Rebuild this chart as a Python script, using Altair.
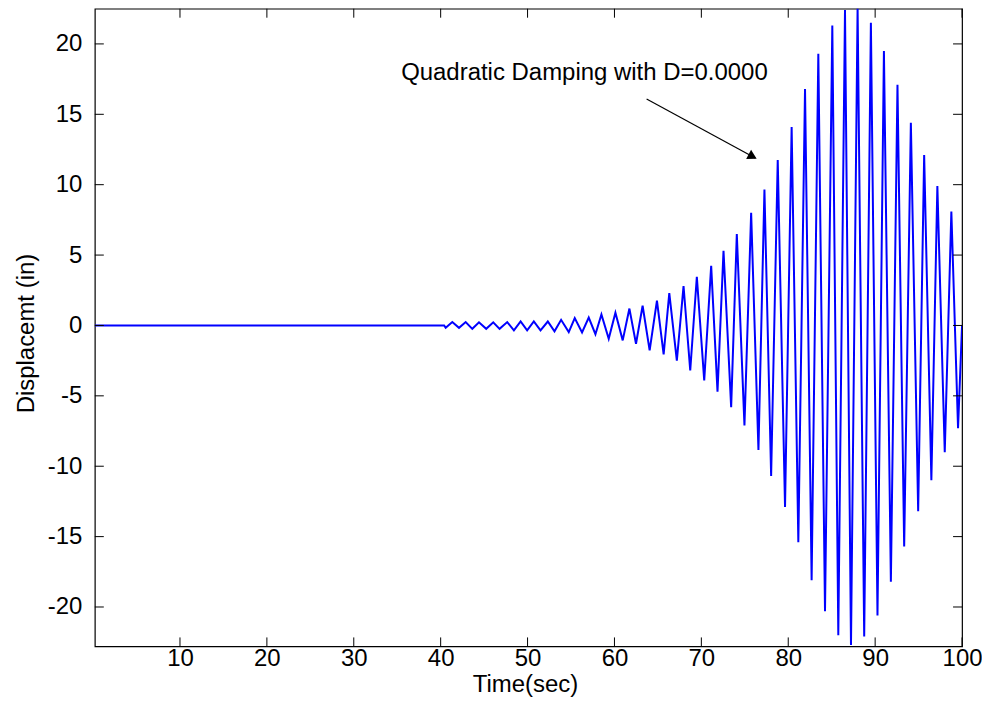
import altair as alt
import pandas as pd

# Time (sec) of successive turning points
time_sec = [0.2, 40.4,
            40.58, 41.34, 42.11, 42.88, 43.64, 44.41, 45.24, 46.05, 46.78, 47.66,
            48.43, 49.20, 49.95, 50.72, 51.49, 52.33, 53.10, 53.86, 54.74, 55.43,
            56.27, 57.04,
            57.81, 58.50, 59.34, 60.11, 60.95, 61.72, 62.48, 63.24, 64.05, 64.89,
            65.66, 66.31, 67.18, 67.95, 68.72, 69.48, 70.33, 71.13, 71.86, 72.55,
            73.43, 74.08, 74.96, 75.73, 76.57, 77.26, 78.03, 78.79,
            79.63, 80.39, 81.16, 81.93, 82.69, 83.46, 84.23, 85.07, 85.76, 86.53,
            87.22,
            87.98, 88.74, 89.51, 90.27, 91.01, 91.81, 92.57, 93.34, 94.11, 94.95,
            95.64, 96.47, 97.16, 98.01, 98.77, 99.54,
            100.0]

# Displacement (in) at those points
displacement = [0.0, 0.0,
                -0.17, 0.24, -0.17, 0.24, -0.24, 0.22, -0.24, 0.22, -0.24, 0.24,
                -0.35, 0.28, -0.35, 0.28, -0.35, 0.28, -0.42, 0.40, -0.47, 0.52,
                -0.50, 0.56,
                -0.62, 0.78, -0.94, 0.90, -1.06, 1.2, -1.3, 1.4, -1.77, 1.77,
                -2.05, 2.3, -2.5, 2.8, -3.2, 3.46, -3.9, 4.24, -4.7, 5.3,
                -5.8, 6.5, -7.1, 8.0, -8.85, 9.65, -10.7, 11.75,
                -12.9, 14.1, -15.4, 16.8, -18.1, 19.3, -20.3, 21.3, -22.0, 22.4,
                -22.7,
                22.6, -22.1, 21.5, -20.6, 19.5, -18.2, 17.1, -15.7, 14.4, -13.2,
                12.1, -11.0, 9.9, -9.0, 8.1, -7.3,
                0.0]

assert len(time_sec) == len(displacement)

x_ticks = [10, 20, 30, 40, 50, 60, 70, 80, 90, 100]
y_ticks = [-20, -15, -10, -5, 0, 5, 10, 15, 20]

annot_text = ["Quadratic Damping with D=0.0000"]
annot_text_t = [35.45]
annot_text_d = [17.9]
arrow_t = [63.7, 76.2]
arrow_d = [16.08, 11.9]
arrow_head_t = [75.9]
arrow_head_d = [12.0]

FONT = "Liberation Sans"
FS = 24
W, H = 869, 639

df = pd.DataFrame({"t": time_sec, "d": displacement})
df_xt = pd.DataFrame({"t": x_ticks})
df_yt = pd.DataFrame({"d": y_ticks})
df_txt = pd.DataFrame({"t": annot_text_t, "d": annot_text_d, "label": annot_text})
df_arrow = pd.DataFrame({"t": arrow_t, "d": arrow_d})
df_head = pd.DataFrame({"t": arrow_head_t, "d": arrow_head_d})

xscale = alt.Scale(domain=[0.2, 100], nice=False, zero=False)
yscale = alt.Scale(domain=[-22.8, 22.5], nice=False, zero=False)

xaxis = alt.Axis(values=x_ticks, labelExpr="'' + datum.value", tickSize=0,
                 domain=False, grid=False,
                 labelFont=FONT, labelFontSize=FS, labelColor="black", labelPadding=0,
                 labelFlush=False, labelOverlap=False,
                 titleFont=FONT, titleFontSize=FS, titleFontWeight="normal",
                 titleColor="black", titleX=431, titleY=38, titleBaseline="middle",
                 titleAlign="center")
yaxis = alt.Axis(values=y_ticks, labelExpr="'' + datum.value", tickSize=0,
                 domain=False, grid=False,
                 labelFont=FONT, labelFontSize=FS, labelColor="black", labelPadding=13,
                 labelOverlap=False,
                 titleFont=FONT, titleFontSize=FS, titleFontWeight="normal",
                 titleColor="black", titleX=-68, titleY=325, titleAngle=270,
                 titleBaseline="middle", titleAlign="center")

X = alt.X("t:Q", scale=xscale, axis=xaxis, title="Time(sec)")
Y = alt.Y("d:Q", scale=yscale, axis=yaxis, title="Displacemt (in)")

line = alt.Chart(df).mark_line(color="#0000FF", strokeWidth=2, clip=True).encode(
    x=X, y=Y, order="t:Q")

tick_style = dict(color="black", strokeWidth=1)
xt_bottom = alt.Chart(df_xt).mark_rule(**tick_style).encode(
    x=X, y=alt.value(H), y2=alt.value(H - 9))
xt_top = alt.Chart(df_xt).mark_rule(**tick_style).encode(
    x=X, y=alt.value(0), y2=alt.value(9))
yt_left = alt.Chart(df_yt).mark_rule(**tick_style).encode(
    y=Y, x=alt.value(0), x2=alt.value(9))
yt_right = alt.Chart(df_yt).mark_rule(**tick_style).encode(
    y=Y, x=alt.value(W), x2=alt.value(W - 9))

txt = alt.Chart(df_txt).mark_text(align="left", baseline="middle", font=FONT,
                                  fontSize=FS, color="black").encode(
    x=X, y=Y, text="label:N")
arrow = alt.Chart(df_arrow).mark_line(color="black", strokeWidth=1.2).encode(
    x=X, y=Y, order="t:Q")
head = alt.Chart(df_head).mark_point(shape="triangle-right", angle=28, size=110,
                                     filled=True, color="black", opacity=1).encode(
    x=X, y=Y)

chart = alt.layer(line, xt_bottom, xt_top, yt_left, yt_right, arrow, head, txt).properties(
    width=W, height=H,
    autosize=alt.AutoSizeParams(type="none"),
    padding={"left": 87, "top": 0, "right": 20, "bottom": 64},
    background="white",
).configure_view(stroke="black", strokeWidth=1.2)

chart.save("out.html", embed_options={"renderer": "svg", "actions": False})
